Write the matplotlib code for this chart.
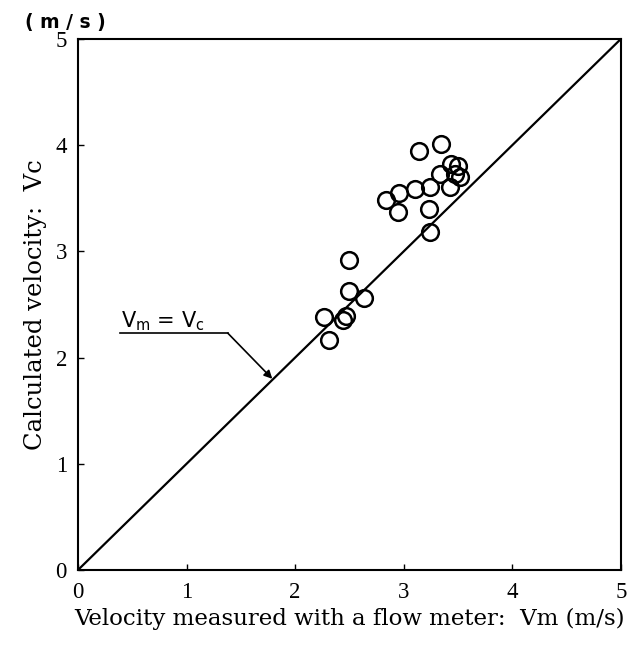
import matplotlib
matplotlib.use("Agg")
import matplotlib.pyplot as plt

# measured (Vm) and calculated (Vc) velocities, m/s
vm = [3.14, 3.34, 3.44, 3.50, 3.47, 3.52, 3.33, 3.43, 3.24, 3.10, 2.96, 2.84,
      2.95, 3.23, 3.24, 2.50, 2.50, 2.63, 2.27, 2.44, 2.47, 2.31]
vc = [3.95, 4.01, 3.82, 3.80, 3.73, 3.70, 3.73, 3.61, 3.61, 3.59, 3.55, 3.48,
      3.37, 3.40, 3.18, 2.92, 2.63, 2.56, 2.38, 2.35, 2.39, 2.17]

ticks = [0, 1, 2, 3, 4, 5]
tick_labels = ["0", "1", "2", "3", "4", "5"]

TICK_FONT = ["Liberation Serif", "DejaVu Serif"]
LABEL_FONT = ["DejaVu Serif"]

fig = plt.figure(figsize=(6.29, 6.48), dpi=100)
ax = fig.add_axes([0.124, 0.1204, 0.863, 0.8194])

# 1:1 reference line
ax.plot([0, 5], [0, 5], color="black", lw=1.6)
ax.plot(vm, vc, linestyle="none", marker="o", markersize=12,
        markerfacecolor="none", markeredgecolor="black", markeredgewidth=1.8)

ax.set_xlim(0, 5)
ax.set_ylim(0, 5)
ax.set_xticks(ticks)
ax.set_yticks(ticks)
ax.set_xticklabels(tick_labels, family=TICK_FONT, fontsize=16.5)
ax.set_yticklabels(tick_labels, family=TICK_FONT, fontsize=16.5)
ax.tick_params(direction="in", length=4, width=1)
ax.tick_params(axis="x", pad=9)
ax.tick_params(axis="y", pad=8)
for s in ax.spines.values():
    s.set_linewidth(1.5)

ax.set_xlabel("Velocity measured with a flow meter:  Vm (m/s)",
              family=LABEL_FONT, fontsize=16.5, labelpad=3)
ax.set_ylabel("Calculated velocity:  Vc", family=LABEL_FONT, fontsize=17.5,
              labelpad=6)

fig.text(0.04, 0.966, "( m / s )", fontsize=13.5, fontweight="bold",
         family="DejaVu Sans", va="center", ha="left")

# Vm = Vc label with leader arrow
ax.text(0.40, 2.34, r"$\mathregular{V_m}$ = $\mathregular{V_c}$",
        fontsize=15, family="DejaVu Sans", va="center", ha="left")
ax.plot([0.39, 1.38], [2.23, 2.23], color="black", lw=1.2)
ax.annotate("", xy=(1.79, 1.80), xytext=(1.38, 2.23),
            arrowprops=dict(arrowstyle="-|>", color="black", lw=1.2,
                            mutation_scale=12, shrinkA=0, shrinkB=0))

fig.savefig("out.png", dpi=100)
